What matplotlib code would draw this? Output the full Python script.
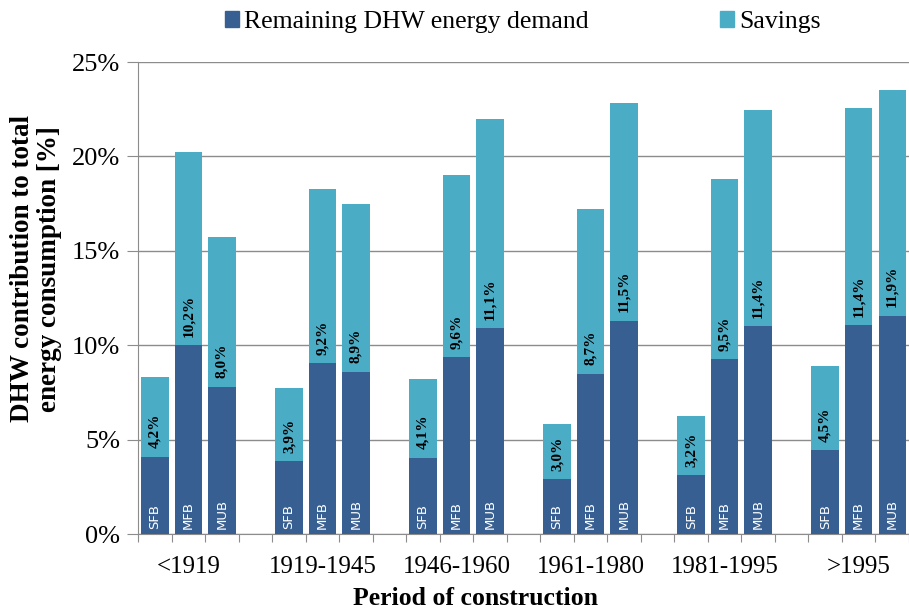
import matplotlib.pyplot as plt
from matplotlib.patches import Patch

periods = ["<1919", "1919-1945", "1946-1960", "1961-1980", "1981-1995", ">1995"]
types = ["SFB", "MFB", "MUB"]

# remaining DHW demand (dark part) and total height, per period: SFB, MFB, MUB
remaining = [
    [4.1, 10.0, 7.8],
    [3.85, 9.05, 8.6],
    [4.05, 9.35, 10.9],
    [2.9, 8.5, 11.3],
    [3.1, 9.25, 11.0],
    [4.45, 11.05, 11.55],
]
total = [
    [8.3, 20.25, 15.75],
    [7.75, 18.3, 17.5],
    [8.2, 19.0, 22.0],
    [5.85, 17.2, 22.85],
    [6.25, 18.8, 22.45],
    [8.9, 22.55, 23.5],
]
value_labels = [
    ["4,2%", "10,2%", "8,0%"],
    ["3,9%", "9,2%", "8,9%"],
    ["4,1%", "9,6%", "11,1%"],
    ["3,0%", "8,7%", "11,5%"],
    ["3,2%", "9,5%", "11,4%"],
    ["4,5%", "11,4%", "11,9%"],
]

dark = "#375F91"
light = "#4BACC6"
grey = "#8c8c8c"
serif = "Liberation Serif"

fig = plt.figure(figsize=(9.09, 6.11), dpi=100)
ax = fig.add_axes([0.152, 0.126, 0.848, 0.7725])

xs, rem, sav, labs, kinds = [], [], [], [], []
for g in range(len(periods)):
    for k in range(3):
        xs.append(g * 4 + k)
        rem.append(remaining[g][k])
        sav.append(total[g][k] - remaining[g][k])
        labs.append(value_labels[g][k])
        kinds.append(types[k])

ax.bar(xs, rem, width=0.82, color=dark, zorder=3)
ax.bar(xs, sav, width=0.82, bottom=rem, color=light, zorder=3)

for x, r, lab, kind in zip(xs, rem, labs, kinds):
    ax.text(x, r + 0.45, lab, rotation=90, ha="center", va="bottom",
            fontsize=11, fontweight="bold", family=serif, zorder=4)
    ax.text(x, 0.25, kind, rotation=90, ha="center", va="bottom",
            fontsize=9.5, color="white", family="DejaVu Sans", zorder=4)

ax.set_ylim(0, 25)
ax.set_xlim(-0.5, 22.18)
ax.set_yticks([0, 5, 10, 15, 20, 25])
ax.set_yticklabels([f"{v}%" for v in [0, 5, 10, 15, 20, 25]], family=serif, fontsize=19)
ax.yaxis.grid(True, color=grey, linewidth=1, zorder=0)

ax.set_xticks([i - 0.5 for i in range(24)])
ax.set_xticklabels([])
ax.set_xticks([g * 4 + 1 for g in range(len(periods))], minor=True)
ax.set_xticklabels(periods, minor=True, family=serif, fontsize=18)
ax.tick_params(axis="x", which="major", length=6, color=grey)
ax.tick_params(axis="x", which="minor", length=0, pad=16)
ax.tick_params(axis="y", length=8, color=grey, pad=5)

for s in ["top", "right"]:
    ax.spines[s].set_visible(False)
for s in ["left", "bottom"]:
    ax.spines[s].set_color(grey)

fig.text(0.5226, 0.02, "Period of construction", family=serif, fontsize=18.5,
         fontweight="bold", ha="center", va="center")
fig.text(0.0396, 0.56, "DHW contribution to total\nenergy consumption [%]", family=serif,
         fontsize=19.5, fontweight="bold", rotation=90, ha="center", va="center",
         linespacing=1.1, multialignment="center")

handles = [Patch(color=dark), Patch(color=light)]
fig.legend(handles, ["Remaining DHW energy demand", "Savings"], loc="upper center",
           bbox_to_anchor=(0.575, 1.02), ncol=2, frameon=False, prop={"family": serif, "size": 18.5},
           handlelength=0.55, handleheight=0.55, handletextpad=0.2, columnspacing=5.1)

fig.savefig("out.png", dpi=100)
